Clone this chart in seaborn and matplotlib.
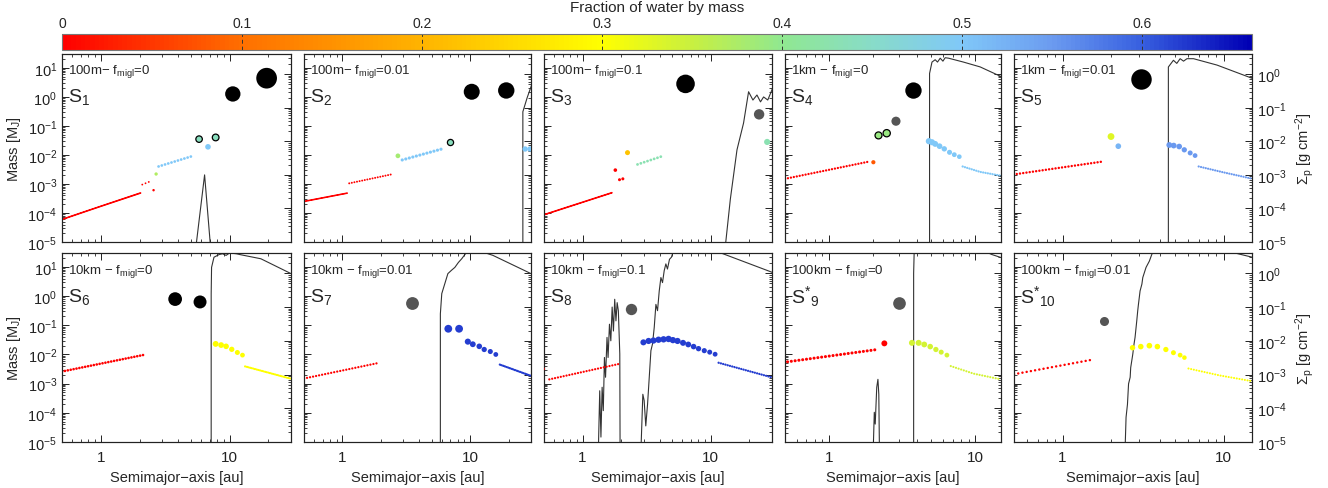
import numpy as np
import matplotlib
matplotlib.use('Agg')
import matplotlib.pyplot as plt
import seaborn as sns
from matplotlib.colors import LinearSegmentedColormap, Normalize
from matplotlib.cm import ScalarMappable
from matplotlib.ticker import LogLocator, FixedLocator, NullFormatter, FuncFormatter

nan = float('nan')
DPI = 100
W, H = 1328, 489

#=========================
# 1: PODACI (procitano sa slike)
#=========================
# trails: (a [au], M [M_J], udeo vode, broj tela) -> nizovi gusto poredjanih embriona
# planets: (a, M, udeo vode, ima crni obod)
# giants: (a, M, 'k' crni / 'g' sivi)
# sig_a / sig_s: povrsinska gustina planetezimala Sigma_p [g cm^-2]

names = ['S$_1$', 'S$_2$', 'S$_3$', 'S$_4$', 'S$_5$',
         'S$_6$', 'S$_7$', 'S$_8$', 'S$^{*}{}_{9}$', 'S$^{*}{}_{10}$']
runs = ['100m\u2212 f$_{\\rm migl}$=0', '100m\u2212 f$_{\\rm migl}$=0.01', '100m\u2212 f$_{\\rm migl}$=0.1',
        '1km \u2212 f$_{\\rm migl}$=0', '1km \u2212 f$_{\\rm migl}$=0.01',
        '10km \u2212 f$_{\\rm migl}$=0', '10km \u2212 f$_{\\rm migl}$=0.01', '10km \u2212 f$_{\\rm migl}$=0.1',
        '100km \u2212 f$_{\\rm migl}$=0', '100km \u2212 f$_{\\rm migl}$=0.01']
col_xmax = [30, 30, 30, 15, 15]

# S1
s1_trails = [([0.5, 1.0, 2.07], [6.0e-5, 1.7e-4, 5.0e-4], 0.0, 80),
             ([2.1, 2.5], [9.5e-4, 1.3e-3], 0.0, 4),
             ([2.81, 5.3], [4.0e-3, 9.5e-3], 0.5, 12)]
s1_planets = [(2.57, 6.1e-4, 0.0, False), (2.69, 2.2e-3, 0.37, False), (6.8, 1.9e-2, 0.5, False),
              (5.8, 0.035, 0.44, True), (7.8, 0.040, 0.44, True)]
s1_giants = [(10.6, 1.26, 'k'), (19.4, 4.4, 'k')]
s1_sig_a = [5.5, 6.4, 7.1]
s1_sig_s = [8e-6, 1.0e-3, 8e-6]

# S2
s2_trails = [([0.5, 1.11], [2.5e-4, 4.9e-4], 0.0, 40),
             ([1.13, 2.5], [1.05e-3, 2.2e-3], 0.0, 18),
             ([2.94, 6.3], [6.7e-3, 1.7e-2], 0.5, 13)]
s2_planets = [(2.72, 9.3e-3, 0.38, False), (6.9, 0.029, 0.44, True),
              (27.0, 0.016, 0.5, False), (29.5, 0.016, 0.5, False)]
s2_giants = [(10.3, 1.5, 'k'), (19.2, 1.66, 'k')]
s2_sig_a = [25.9, 25.9, 28.0, 31.0]
s2_sig_s = [8e-6, 0.076, 0.2, 0.6]

# S3
s3_trails = [([0.5, 1.72], [8.7e-5, 5.1e-4], 0.0, 70),
             ([2.68, 4.32], [4.7e-3, 9.5e-3], 0.43, 9)]
s3_planets = [(1.8, 3.0e-3, 0.0, False), (1.94, 1.4e-3, 0.0, False), (2.06, 1.5e-3, 0.0, False),
              (2.24, 0.012, 0.22, False), (27.5, 0.028, 0.43, False)]
s3_giants = [(6.35, 2.8, 'k'), (23.8, 0.25, 'g')]
s3_sig_a = [13.0, 14.2, 16.0, 18.0, 19.7, 21.3, 22.9, 24.4, 25.8, 27.8, 30.5]
s3_sig_s = [8e-6, 1.9e-4, 5.6e-3, 0.035, 0.30, 0.17, 0.24, 0.15, 0.21, 0.17, 0.40]

# S4
s4_trails = [([0.5, 1.91], [1.5e-3, 6.0e-3], 0.0, 30),
             ([8.2, 10.8, 15.2], [4.0e-3, 2.6e-3, 1.9e-3], 0.5, 18)]
s4_planets = [(2.01, 5.6e-3, 0.08, False), (2.18, 0.047, 0.39, True), (2.48, 0.056, 0.39, True),
              (4.82, 0.0297, 0.5, False), (5.06, 0.0274, 0.5, False), (5.32, 0.024, 0.5, False),
              (5.70, 0.020, 0.5, False), (6.14, 0.0162, 0.5, False), (6.67, 0.0123, 0.5, False),
              (7.19, 0.0102, 0.5, False), (7.78, 0.0087, 0.5, False)]
s4_giants = [(2.87, 0.145, 'g'), (3.78, 1.65, 'k')]
s4_sig_a = [4.87, 4.87, 5.06, 5.32, 5.52, 5.76, 6.01, 6.23, 6.57, 8.3, 10.8, 15.2]
s4_sig_s = [8e-6, 1.05, 2.3, 2.7, 2.3, 3.0, 2.45, 3.1, 3.0, 2.3, 1.65, 0.83]

# S5
s5_trails = [([0.52, 1.81], [2.2e-3, 6.0e-3], 0.0, 28),
             ([7.0, 10.0, 15.2], [4.0e-3, 2.5e-3, 1.5e-3], 0.55, 24)]
s5_planets = [(2.0, 0.043, 0.33, False), (2.22, 0.020, 0.52, False),
              (4.6, 0.022, 0.55, False), (4.9, 0.021, 0.55, False), (5.3, 0.0195, 0.55, False),
              (5.7, 0.015, 0.55, False), (6.2, 0.0117, 0.55, False), (6.65, 0.0095, 0.55, False)]
s5_giants = [(3.08, 4.2, 'k')]
s5_sig_a = [4.54, 4.54, 4.88, 5.12, 5.37, 5.64, 5.92, 6.5, 9.1, 15.2]
s5_sig_s = [8e-6, 1.64, 2.6, 2.1, 2.9, 2.45, 2.9, 2.9, 1.87, 0.74]

# S6
s6_trails = [([0.5, 2.24], [2.6e-3, 1.0e-2], 0.0, 30),
             ([13.2, 29.5], [3.9e-3, 1.5e-3], 0.3, 28)]
s6_planets = [(7.8, 0.023, 0.3, False), (8.6, 0.021, 0.3, False), (9.4, 0.019, 0.3, False),
              (10.4, 0.015, 0.3, False), (11.5, 0.0117, 0.3, False), (12.6, 0.0095, 0.3, False)]
s6_giants = [(3.78, 0.79, 'k'), (5.9, 0.63, 'k')]
s6_sig_a = [7.2, 7.2, 7.25, 7.57, 8.3, 8.83, 9.4, 10.0, 11.3, 12.0, 17.5, 30.5]
s6_sig_s = [8e-6, 0.25, 1.5, 3.0, 3.6, 3.8, 3.4, 4.0, 3.8, 3.6, 2.7, 0.95]

# S7
s7_trails = [([0.5, 1.95], [1.5e-3, 5.2e-3], 0.0, 26),
             ([17.1, 30.5], [4.5e-3, 1.8e-3], 0.62, 20)]
s7_planets = [(6.75, 0.076, 0.62, False), (8.2, 0.076, 0.62, False), (9.6, 0.0275, 0.62, False),
              (10.5, 0.0224, 0.62, False), (11.8, 0.019, 0.62, False), (12.9, 0.0148, 0.62, False),
              (14.4, 0.0126, 0.62, False), (15.9, 0.010, 0.62, False)]
s7_giants = [(3.52, 0.6, 'g')]
s7_sig_a = [5.85, 5.85, 6.0, 6.7, 7.15, 7.6, 8.1, 8.6, 9.2, 9.8, 10.4, 11.1, 12.5, 15.1, 30.5]
s7_sig_s = [8e-6, 0.063, 0.25, 0.98, 1.23, 1.5, 2.1, 2.7, 3.8, 4.6, 4.0, 4.8, 4.3, 3.4, 0.95]

# S8
s8_trails = [([0.55, 1.99], [1.4e-3, 4.9e-3], 0.0, 26),
             ([11.5, 30.5], [5.2e-3, 1.6e-3], 0.62, 25)]
s8_planets = [(0.49, 3.2e-3, 0.0, False),
              (2.98, 0.026, 0.62, False), (3.27, 0.029, 0.62, False), (3.57, 0.030, 0.62, False),
              (3.91, 0.032, 0.62, False), (4.28, 0.033, 0.62, False), (4.68, 0.034, 0.62, False),
              (5.06, 0.031, 0.62, False), (5.5, 0.029, 0.62, False), (6.07, 0.025, 0.62, False),
              (6.67, 0.022, 0.62, False), (7.34, 0.0186, 0.62, False), (8.02, 0.0158, 0.62, False),
              (8.89, 0.0135, 0.62, False), (9.8, 0.012, 0.62, False), (10.8, 0.0102, 0.62, False)]
s8_giants = [(2.39, 0.36, 'g')]
s8_sig_a = [1.33, 1.36, 1.39, 1.42, 1.45, 1.48, 1.51, 1.55, 1.58, 1.62, 1.66, 1.70, 1.74, 1.78, 1.82,
            1.86, 1.90, 1.95, 1.96, nan,
            2.86, 2.95, 3.02, 3.11, 3.21, 3.31, 3.41, 3.51, 3.62, 3.73, 3.84, 3.96, 4.08, 4.2, 4.33,
            4.46, 4.59, 4.76, 4.93, 5.17, 8.0, 12.0, 30.5]
s8_sig_s = [8e-6, 3.3e-4, 1.4e-5, 4.2e-4, 8.5e-5, 3.2e-3, 8.3e-4, 0.0126, 3.2e-3, 0.031, 0.01, 0.1,
            0.0195, 0.17, 0.039, 0.135, 0.078, 4.1e-3, 8e-6, nan,
            8e-6, 2.6e-4, 1.7e-4, 3e-5, 1.3e-4, 8.3e-4, 5.1e-3, 8.1e-3, 0.025, 0.12, 0.078, 0.3, 0.75,
            0.53, 1.2, 1.9, 1.34, 2.6, 3.0, 5.3, 9.0, 4.0, 1.05]

# S9
s9_trails = [([0.52, 2.18], [5.6e-3, 1.5e-2], 0.0, 25),
             ([6.8, 9.75, 15.0], [4.0e-3, 2.2e-3, 1.4e-3], 0.34, 20)]
s9_planets = [(2.39, 0.024, 0.0, False),
              (3.69, 0.025, 0.34, False), (4.1, 0.025, 0.34, False), (4.48, 0.022, 0.34, False),
              (4.92, 0.0186, 0.34, False), (5.38, 0.0148, 0.34, False), (5.85, 0.012, 0.34, False),
              (6.4, 0.0095, 0.34, False)]
s9_giants = [(2.99, 0.57, 'g')]
s9_sig_a = [2.01, 2.04, 2.07, 2.12, 2.16, 2.19, 2.21, nan, 3.79, 3.79, 3.83, 8.0, 13.0, 15.5]
s9_sig_s = [8e-6, 7.6e-5, 3.4e-5, 4.2e-4, 7.2e-4, 2.6e-4, 8e-6, nan, 8e-6, 1.0, 6.0, 9.0, 3.6, 2.8]

# S10
s10_trails = [([0.5, 1.57], [2.1e-3, 6.8e-3], 0.0, 20),
              ([6.05, 9.5, 15.2], [3.3e-3, 1.9e-3, 1.2e-3], 0.3, 25)]
s10_planets = [(2.72, 0.017, 0.3, False), (3.06, 0.0186, 0.3, False), (3.46, 0.020, 0.3, False),
               (3.88, 0.0186, 0.3, False), (4.38, 0.0148, 0.3, False), (4.88, 0.0115, 0.3, False),
               (5.37, 0.0095, 0.3, False), (5.71, 0.0078, 0.3, False)]
s10_giants = [(1.81, 0.14, 'g')]
s10_sig_a = [2.45, 2.48, 2.53, 2.57, 2.63, 2.65, 2.73, 2.78, 2.82, 2.89, 2.93, 2.96, 3.03, 3.11, 3.15,
             3.3, 3.46, 3.58, 3.7, 3.85, 8.0, 11.5, 15.5]
s10_sig_s = [8e-6, 5.4e-5, 1.3e-4, 5.3e-4, 8.3e-4, 1.6e-3, 4e-3, 8.1e-3, 0.0126, 0.039, 0.078, 0.12,
             0.3, 0.48, 0.75, 1.5, 2.3, 3.6, 5.2, 7.2, 9.0, 4.1, 2.9]

cbar_ticks = [0, 0.1, 0.2, 0.3, 0.4, 0.5, 0.6]
cbar_max = 0.661

#=========================
# 2: STIL
#=========================
sns.set_theme(style='white')
plt.rcParams['font.family'] = ['Liberation Sans', 'DejaVu Sans']
plt.rcParams['mathtext.fontset'] = 'custom'
plt.rcParams['mathtext.rm'] = 'Liberation Sans'
plt.rcParams['mathtext.it'] = 'Liberation Sans:italic'
plt.rcParams['mathtext.bf'] = 'Liberation Sans:bold'

cmap = LinearSegmentedColormap.from_list('water', [
    (0.0, '#ff0000'), (0.10 / cbar_max, '#ff7000'), (0.20 / cbar_max, '#ffb400'),
    (0.30 / cbar_max, '#ffff00'), (0.35 / cbar_max, '#c8f040'), (0.40 / cbar_max, '#90e890'),
    (0.45 / cbar_max, '#88dcc8'), (0.50 / cbar_max, '#80c8f8'), (0.55 / cbar_max, '#6c9cf0'),
    (0.60 / cbar_max, '#3860e0'), (1.0, '#0000b4')])
norm = Normalize(0, cbar_max)
giant_colors = {'k': '#000000', 'g': '#555555'}


def dot_px(m, k=14.5):
    return np.maximum(1.8, k * np.asarray(m) ** 0.24)


def area(m):
    return (dot_px(m) * 72 / DPI) ** 2


def box(x0, x1, y0, y1):
    return [x0 / W, 1 - y1 / H, (x1 - x0) / W, (y1 - y0) / H]


def draw_trail(ax, a, m, w, n):
    # n tela duz niza -> tackasta linija sa n tacaka
    d = float(dot_px(np.exp(np.mean(np.log(m))), k=9.5))
    lw = d * 72 / DPI
    xy = ax.transData.transform(np.column_stack([a, m]))
    length = np.sum(np.hypot(*np.diff(xy, axis=0).T))
    step = length / max(n - 1, 1) * 72 / DPI
    off = step / lw - 0.02
    ls = '-' if off <= 0.15 else (0, (0.02, off))
    ax.plot(a, m, color=cmap(norm(w)), lw=lw, ls=ls, solid_capstyle='round',
            dash_capstyle='round', zorder=2)


panels = [
    (s1_trails, s1_planets, s1_giants, s1_sig_a, s1_sig_s),
    (s2_trails, s2_planets, s2_giants, s2_sig_a, s2_sig_s),
    (s3_trails, s3_planets, s3_giants, s3_sig_a, s3_sig_s),
    (s4_trails, s4_planets, s4_giants, s4_sig_a, s4_sig_s),
    (s5_trails, s5_planets, s5_giants, s5_sig_a, s5_sig_s),
    (s6_trails, s6_planets, s6_giants, s6_sig_a, s6_sig_s),
    (s7_trails, s7_planets, s7_giants, s7_sig_a, s7_sig_s),
    (s8_trails, s8_planets, s8_giants, s8_sig_a, s8_sig_s),
    (s9_trails, s9_planets, s9_giants, s9_sig_a, s9_sig_s),
    (s10_trails, s10_planets, s10_giants, s10_sig_a, s10_sig_s),
]

col_px = [(62, 291), (304, 531), (544, 772), (785, 1001), (1014, 1252)]
row_px = [(55, 243), (254, 443)]

#=========================
# 3: CRTANJE
#=========================
fig = plt.figure(figsize=(W / DPI, H / DPI), dpi=DPI)

for i, (trails, planets, giants, sig_a, sig_s) in enumerate(panels):
    row, col = divmod(i, 5)
    x0, x1 = col_px[col]
    y0, y1 = row_px[row]
    ax = fig.add_axes(box(x0, x1, y0, y1))
    ax2 = ax.twinx()
    ax.set_zorder(ax2.get_zorder() + 1)
    ax.patch.set_visible(False)

    ax.set_xscale('log')
    ax.set_yscale('log')
    ax2.set_yscale('log')
    ax.set_xlim(0.5, col_xmax[col])
    ax.set_ylim(1e-5, 30)
    ax2.set_ylim(1e-5, 4)

    # Sigma_p
    ax2.plot(sig_a, sig_s, color='#333333', lw=0.8, zorder=1)

    # nizovi embriona
    for a, m, w, n in trails:
        draw_trail(ax, a, m, w, n)

    # planete sa udelom vode
    pa = np.array([p[0] for p in planets])
    pm = np.array([p[1] for p in planets])
    pw = np.array([p[2] for p in planets])
    ring = np.array([p[3] for p in planets])
    for sel, ec, elw in ((~ring, 'none', 0), (ring, 'black', 0.9)):
        if sel.any():
            sns.scatterplot(x=pa[sel], y=pm[sel], hue=pw[sel], palette=cmap, hue_norm=norm,
                            s=area(pm[sel]), edgecolor=ec, linewidth=elw, legend=False,
                            ax=ax, zorder=3)

    # gasoviti divovi
    ga = [g[0] for g in giants]
    gm = [g[1] for g in giants]
    gk = [g[2] for g in giants]
    sns.scatterplot(x=ga, y=gm, hue=gk, palette=giant_colors, s=area(gm), linewidth=0,
                    legend=False, ax=ax, zorder=4)

    # ose i podeoci
    ax.xaxis.set_major_locator(FixedLocator([1, 10]))
    ax.xaxis.set_minor_locator(LogLocator(base=10, subs=np.arange(2, 10), numticks=10))
    ax.xaxis.set_major_formatter(FuncFormatter(lambda v, p: f'{v:g}'))
    ax.xaxis.set_minor_formatter(NullFormatter())
    for yax in (ax.yaxis, ax2.yaxis):
        yax.set_major_locator(LogLocator(base=10, numticks=12))
        yax.set_minor_locator(LogLocator(base=10, subs=np.arange(2, 10), numticks=12))
        yax.set_minor_formatter(NullFormatter())
    ax.tick_params(which='both', direction='in', top=True, bottom=True, left=True, right=False,
                   labelbottom=(row == 1), labelleft=(col == 0), labelsize=10.5, colors='#222222')
    ax.tick_params(axis='x', pad=6, labelsize=11)
    ax.tick_params(which='major', length=5, width=0.7)
    ax.tick_params(which='minor', length=2.5, width=0.6)
    ax2.tick_params(which='both', direction='in', right=True, labelright=(col == 4),
                    labelsize=10.5, colors='#222222')
    ax2.tick_params(which='major', length=5, width=0.7)
    ax2.tick_params(which='minor', length=2.5, width=0.6)
    for a_ in (ax, ax2):
        for sp in a_.spines.values():
            sp.set_color('#222222')
            sp.set_linewidth(0.8)
    ax.set_xlabel('')
    ax.set_ylabel('')

    if col == 0:
        ax.set_ylabel('Mass [M$_{\\rm J}$]', fontsize=10.5, labelpad=3)
    if col == 4:
        ax2.set_ylabel('\u03a3$_{\\rm p}$ [g cm$^{-2}$]', fontsize=10.5, labelpad=5)
    if row == 1:
        ax.set_xlabel('Semimajor\u2212axis [au]', fontsize=10.5, labelpad=4)

    ax.text(0.026, 0.91, runs[i], transform=ax.transAxes, fontsize=9.5, va='center', ha='left')
    ax.text(0.026, 0.775, names[i], transform=ax.transAxes, fontsize=14, va='center', ha='left')

# colorbar
cax = fig.add_axes(box(62, 1252, 35, 51))
cb = fig.colorbar(ScalarMappable(norm=norm, cmap=cmap), cax=cax, orientation='horizontal')
cb.set_ticks(cbar_ticks)
cb.set_ticklabels([f'{t:g}' for t in cbar_ticks])
cax.xaxis.set_ticks_position('top')
cax.tick_params(length=0, labelsize=10, pad=3)
for t in cbar_ticks[1:]:
    cax.axvline(t, color='#333333', lw=0.7, ls=(0, (4, 3)))
cb.outline.set_edgecolor('#777777')
cb.outline.set_linewidth(0.8)
fig.text(657 / W, 1 - 8 / H, 'Fraction of water by mass', ha='center', va='center', fontsize=11)

plt.savefig('out.png', dpi=DPI)
